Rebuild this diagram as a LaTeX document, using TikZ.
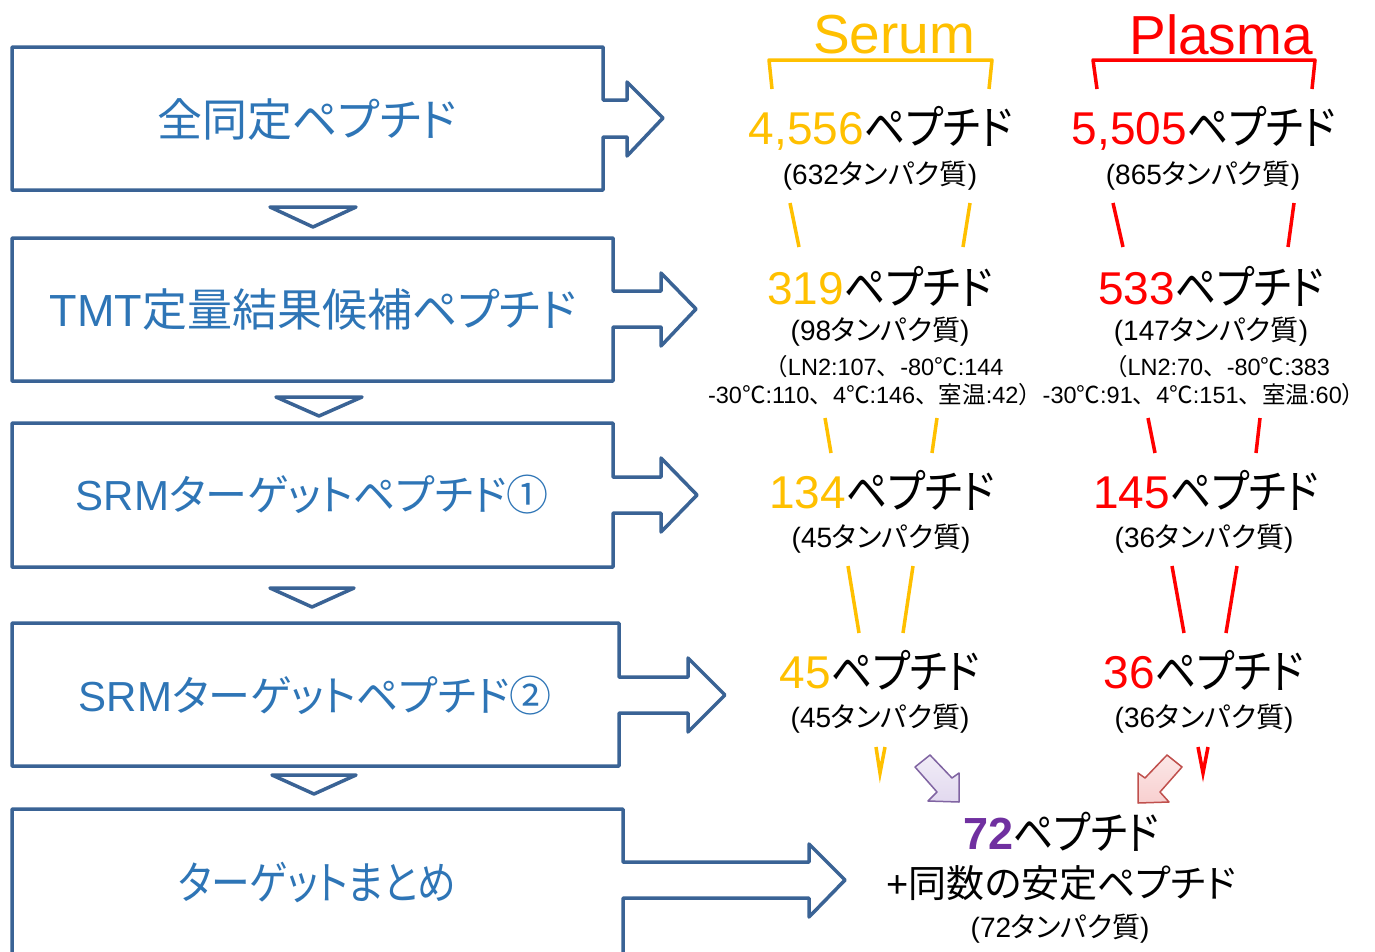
\documentclass[tikz,border=0pt]{standalone}
\usepackage{fontspec}
\setmainfont{Liberation Sans}
\newfontfamily\jp[RawFeature=+palt]{Noto Sans CJK JP}
\newfontfamily\jpf{Noto Sans CJK JP}
\newfontfamily\jpk[RawFeature=+palt,FakeStretch=0.89]{Noto Sans CJK JP}
\newfontfamily\jpn[RawFeature=+palt,FakeStretch=0.86]{Noto Sans CJK JP}
\definecolor{boxline}{HTML}{3A6395}
\definecolor{boxtext}{HTML}{2E75B6}
\definecolor{serum}{HTML}{FFC000}
\definecolor{plasma}{HTML}{FF0000}
\definecolor{purp}{HTML}{7030A0}
\definecolor{purpline}{HTML}{8064A2}
\definecolor{purpfill}{HTML}{E2D9EF}
\definecolor{pinkline}{HTML}{C0504D}
\definecolor{pinkfill}{HTML}{F8CFCF}
\tikzset{
  callout/.style={draw=boxline, line width=3.5pt, line join=round, fill=white},
  downtri/.style={draw=boxline, line width=3.5pt, line join=round, fill=white},
  lefttext/.style={text=boxtext, font=\fontsize{45}{54}\selectfont, inner sep=0pt},
  bigtext/.style={font=\fontsize{46}{55}\selectfont, inner sep=0pt},
  subtext/.style={font=\fontsize{28}{34}\selectfont, inner sep=0pt},
  smalltext/.style={font=\fontsize{23.5}{28}\selectfont, inner sep=0pt},
  headtext/.style={font=\fontsize{55}{66}\selectfont, inner sep=0pt},
  serumline/.style={draw=serum, line width=3.5pt},
  plasmaline/.style={draw=plasma, line width=3.5pt},
  vmark/.style={line width=3.5pt, line join=miter},
}
\begin{document}
\begin{tikzpicture}[x=1pt,y=-1pt]
\useasboundingbox (0,0) rectangle (1375,951);
\clip (0,0) rectangle (1375,951);
\fill[white] (0,0) rectangle (1375,951);

% ---------- left callout boxes ----------
\draw[callout] (12,47) -- (603,47) -- (603,100) -- (627,100) -- (627,82) -- (663,118)
  -- (627,156) -- (627,137) -- (603,137) -- (603,190) -- (12,190) -- cycle;
\node[lefttext] (b1) at (307,119) {\jp 全同定ペプチド};

\draw[downtri] (270,207) -- (356,207) -- (313,227) -- cycle;

\draw[callout] (12,238) -- (613,238) -- (613,291) -- (661,291) -- (661,273) -- (696,309)
  -- (661,346) -- (661,327) -- (613,327) -- (613,381) -- (12,381) -- cycle;
\node[lefttext] (b2) at (313,310) {TMT{\jp 定量結果候補ペプチド}};

\draw[downtri] (276,397) -- (362,397) -- (319,416) -- cycle;

\draw[callout] (12,423) -- (613,423) -- (613,477) -- (661,477) -- (661,458) -- (697,495)
  -- (661,532) -- (661,513) -- (613,513) -- (613,567) -- (12,567) -- cycle;
\node[lefttext, font=\fontsize{42}{50}\selectfont] (b3) at (312,495) {SRM{\jp ターゲットペプチド①}};

\draw[downtri] (270,588) -- (354,588) -- (312,607) -- cycle;

\draw[callout] (12,623) -- (619,623) -- (619,677) -- (688,677) -- (688,658) -- (725,695)
  -- (688,732) -- (688,713) -- (619,713) -- (619,766) -- (12,766) -- cycle;
\node[lefttext, font=\fontsize{42}{50}\selectfont] (b4) at (315,696) {SRM{\jp ターゲットペプチド②}};

\draw[downtri] (272,775) -- (356,775) -- (314,794) -- cycle;

\draw[callout] (12,809) -- (623,809) -- (623,862) -- (809,862) -- (809,844) -- (845,880)
  -- (809,917) -- (809,898) -- (623,898) -- (623,958) -- (12,958) -- cycle;
\node[lefttext] (b5) at (317,882) {\jpn ターゲットまとめ};

% ---------- headers ----------
\node[headtext, text=serum] (serumh) at (894,35) {Serum};
\node[headtext, text=plasma] (plasmah) at (1221,35) {Plasma};
\draw[serumline, line join=round] (772,89) -- (769,60) -- (992,60) -- (989,89);
\draw[plasmaline, line join=round] (1097,89) -- (1093,60) -- (1315,60) -- (1312,89);

% ---------- serum column ----------
\node[bigtext] (s1) at (881,128) {\textcolor{serum}{4,556}{\jpk ペプチド}};
\node[subtext] (s1p) at (880,176) {(632{\jp タンパク質})};
\node[bigtext] (s2) at (880,286) {\textcolor{serum}{319}{\jpk ペプチド}};
\node[subtext] (s2p) at (880,332) {(98{\jp タンパク質})};
\node[smalltext] (s2a) at (884,367) {{\jpf （}LN2:107{\jpf 、}-80{\jpf ℃}:144};
\node[smalltext] (s2b) at (875,395) {-30{\jpf ℃}:110{\jpf 、}4{\jpf ℃}:146{\jpf 、室温}:42{\jpf ）}};
\node[bigtext] (s3) at (882,490) {\textcolor{serum}{134}{\jpk ペプチド}};
\node[subtext] (s3p) at (881,539) {(45{\jp タンパク質})};
\node[bigtext] (s4) at (880,670) {\textcolor{serum}{45}{\jpk ペプチド}};
\node[subtext] (s4p) at (880,719) {(45{\jp タンパク質})};

% ---------- plasma column ----------
\node[bigtext] (p1) at (1204,128) {\textcolor{plasma}{5,505}{\jpk ペプチド}};
\node[subtext] (p1p) at (1203,176) {(865{\jp タンパク質})};
\node[bigtext] (p2) at (1211,286) {\textcolor{plasma}{533}{\jpk ペプチド}};
\node[subtext] (p2p) at (1211,332) {(147{\jp タンパク質})};
\node[smalltext] (p2a) at (1217,367) {{\jpf （}LN2:70{\jpf 、}-80{\jpf ℃}:383};
\node[smalltext] (p2b) at (1204,395) {-30{\jpf ℃}:91{\jpf 、}4{\jpf ℃}:151{\jpf 、室温}:60{\jpf ）}};
\node[bigtext] (p3) at (1206,490) {\textcolor{plasma}{145}{\jpk ペプチド}};
\node[subtext] (p3p) at (1204,539) {(36{\jp タンパク質})};
\node[bigtext] (p4) at (1204,670) {\textcolor{plasma}{36}{\jpk ペプチド}};
\node[subtext] (p4p) at (1204,719) {(36{\jp タンパク質})};

% ---------- funnel connector lines ----------
\coordinate (sa1) at (790,203); \coordinate (sa2) at (799,247);
\coordinate (sb1) at (970,203); \coordinate (sb2) at (963,247);
\coordinate (pa1) at (1113,203); \coordinate (pa2) at (1123,247);
\coordinate (pb1) at (1294,203); \coordinate (pb2) at (1288,247);
\draw[serumline] (sa1) -- (sa2); \draw[serumline] (sb1) -- (sb2);
\draw[plasmaline] (pa1) -- (pa2); \draw[plasmaline] (pb1) -- (pb2);

\coordinate (sc1) at (825,418); \coordinate (sc2) at (831,453);
\coordinate (sd1) at (937,418); \coordinate (sd2) at (932,453);
\coordinate (pc1) at (1148,418); \coordinate (pc2) at (1155,453);
\coordinate (pd1) at (1260,418); \coordinate (pd2) at (1256,453);
\draw[serumline] (sc1) -- (sc2); \draw[serumline] (sd1) -- (sd2);
\draw[plasmaline] (pc1) -- (pc2); \draw[plasmaline] (pd1) -- (pd2);

\coordinate (se1) at (848,566); \coordinate (se2) at (859,633);
\coordinate (sf1) at (913,566); \coordinate (sf2) at (903,633);
\coordinate (pe1) at (1172,566); \coordinate (pe2) at (1184,633);
\coordinate (pf1) at (1237,566); \coordinate (pf2) at (1226,633);
\draw[serumline] (se1) -- (se2); \draw[serumline] (sf1) -- (sf2);
\draw[plasmaline] (pe1) -- (pe2); \draw[plasmaline] (pf1) -- (pf2);

% ---------- small V marks ----------
\coordinate (sv) at (880,773);
\draw[serumline, vmark] (876,747) -- (sv) -- (885,747);
\coordinate (pv) at (1203,773);
\draw[plasmaline, vmark] (1198,747) -- (pv) -- (1208,747);

% ---------- block arrows ----------
\draw[draw=purpline, line width=1.5pt, line join=round, top color=purpfill!50, bottom color=purpfill]
  (915,767) -- (930,755) -- (952,778) -- (959,773) -- (959,802) -- (928,801) -- (937,792) -- cycle;
\draw[draw=pinkline, line width=1.5pt, line join=round, top color=pinkfill!50, bottom color=pinkfill]
  (1182,767) -- (1167,755) -- (1145,778) -- (1138,773) -- (1138,803) -- (1169,802) -- (1160,792) -- cycle;

% ---------- result ----------
\node[font=\fontsize{45}{54}\selectfont, inner sep=0pt] (r1) at (1061,832)
  {\textcolor{purp}{\bfseries 72}{\jpk ペプチド}};
\node[font=\fontsize{38}{46}\selectfont, inner sep=0pt] (r2) at (1061,883) {+{\jp 同数の安定ペプチド}};
\node[subtext] (r3) at (1060,929) {(72{\jp タンパク質})};
\end{tikzpicture}
\end{document}
